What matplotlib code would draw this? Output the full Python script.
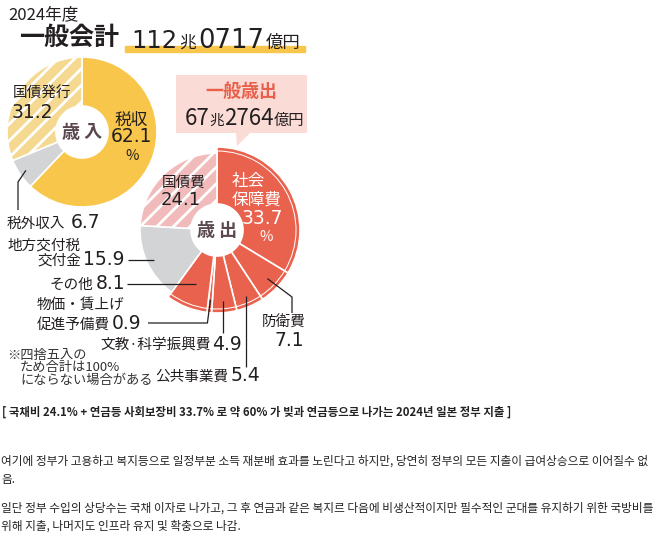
import numpy as np
import matplotlib.pyplot as plt
from matplotlib.patches import Wedge, Polygon, Rectangle

plt.rcParams['font.family'] = ['Noto Sans CJK JP', 'DejaVu Sans']
plt.rcParams['hatch.linewidth'] = 2.0

W, H = 658, 542

# 歳入 (revenue), share in %
rev_names = ['税収', '税外収入', '国債発行']
rev_vals = [62.1, 6.7, 31.2]

# 歳出 (expenditure), share in %
exp_names = ['社会保障費', '防衛費', '公共事業費', '文教·科学振興費',
             '物価・賃上げ促進予備費', 'その他', '地方交付税交付金', '国債費']
exp_vals = [33.7, 7.1, 5.4, 4.9, 0.9, 8.1, 15.9, 24.1]

title_year = '2024年度'
title_main = '一般会計'
total_parts = ['112', '兆', '0717', '億円']
general_title = '一般歳出'
general_parts = ['67', '兆', '2764', '億円']

note_lines = ['※四捨五入の', 'ため合計は100%', 'にならない場合がある']

kr_caption = '[ 국채비 24.1% + 연금등 사회보장비 33.7% 로 약 60% 가 빚과 연금등으로 나가는 2024년 일본 정부 지출 ]'
kr_lines = [
    '여기에 정부가 고용하고 복지등으로 일정부분 소득 재분배 효과를 노린다고 하지만, 당연히 정부의 모든 지출이 급여상승으로 이어질수 없',
    '음.',
    '일단 정부 수입의 상당수는 국채 이자로 나가고, 그 후 연금과 같은 복지르 다음에 비생산적이지만 필수적인 군대를 유지하기 위한 국방비를',
    '위해 지출, 나머지도 인프라 유지 및 확충으로 나감.',
]

YEL = '#F8C64A'
YEL_H = '#F5D991'
GRAY = '#D3D4D5'
RED = '#E9624E'
PINK_H = '#F1BBBB'
CALLOUT = '#FBDBD5'
INK = '#231F20'
HUB = '#5A484E'

JP = ['Noto Sans CJK JP', 'DejaVu Sans']
NUM = ['DejaVu Sans']
KR = ['Noto Sans CJK KR', 'DejaVu Sans']

fig = plt.figure(figsize=(W / 100, H / 100), dpi=100)
ax = fig.add_axes([0, 0, 1, 1])

rc, rr, hole = (82, 132), 75, 26
ec, er_big, er, ehole = (217, 230), 83, 77, 26

# revenue donut
rw, _ = ax.pie(rev_vals, colors=[YEL, GRAY, YEL_H], center=rc, radius=rr,
               startangle=-90, counterclock=True,
               wedgeprops=dict(width=rr - hole, edgecolor='white', linewidth=1.2))
rw[2].set_hatch('//')

# expenditure donut (red slices stick out a bit)
ew, _ = ax.pie(exp_vals, colors=[RED] * 6 + [GRAY, PINK_H], center=ec, radius=er,
               startangle=-90, counterclock=True,
               wedgeprops=dict(width=er - ehole, edgecolor='white', linewidth=1.2))
for w in ew[:6]:
    w.set_radius(er_big)
    w.set_width(er_big - ehole)
    ax.add_patch(Wedge(w.center, er_big - 3.5, w.theta1, w.theta2, width=1.0,
                       facecolor='white', edgecolor='none', zorder=3))
ew[7].set_hatch('//')

ax.set_xlim(0, W)
ax.set_ylim(H, 0)
ax.set_aspect('auto')
ax.axis('off')


def mid_point(center, r, vals, i):
    tot = sum(vals)
    frac = (sum(vals[:i]) + vals[i] / 2) / tot
    a = np.deg2rad(frac * 360)
    return center[0] + r * np.sin(a), center[1] - r * np.cos(a)


def txt(x, y, s, size, ha='left', va='center', color=INK, family=JP, **kw):
    return ax.text(x, y, s, fontsize=size, ha=ha, va=va, color=color,
                   family=family, zorder=5, **kw)


renderer = fig.canvas.get_renderer()


def chain(x, y, parts, color=INK, gap=1.0):
    # parts: (text, size, family)
    for s, fs, fam in parts:
        t = ax.text(x, y, s, fontsize=fs, ha='left', va='baseline',
                    color=color, family=fam, zorder=5)
        x += t.get_window_extent(renderer).width + gap


def leader(pts):
    xs, ys = zip(*pts)
    ax.plot(xs, ys, color=INK, lw=0.9, zorder=4, solid_capstyle='butt')


def label(x, y, name, value, name_fs=10.5, val_fs=13.5, gap=2):
    chain(x, y, [(name, name_fs, JP), (f'{value}', val_fs, NUM)], gap=gap)


# title
txt(8, 15, title_year, 12)
txt(19, 38, title_main, 18, weight='bold')
ax.add_patch(Rectangle((125, 46), 180, 6, color=YEL, zorder=1))
chain(131, 48, [(total_parts[0], 17.5, NUM), (total_parts[1], 12, JP),
                (total_parts[2], 18.5, NUM), (total_parts[3], 12.5, JP)], gap=2)

# callout for general expenditure
ax.add_patch(Polygon([(176, 75), (307, 75), (307, 133), (250, 133),
                      (237, 146), (236, 133), (176, 133)],
                     closed=True, facecolor=CALLOUT, edgecolor='none'))
txt(241, 91, general_title, 13, ha='center', color='#E8604C', weight='bold')
chain(185, 125, [(general_parts[0], 16, JP), (general_parts[1], 10.5, JP),
                 (general_parts[2], 16, JP), (general_parts[3], 11, JP)], gap=0)

# revenue labels
txt(rc[0], rc[1], '歳 入', 13, ha='center', color=HUB, weight='bold')
txt(131, 120, rev_names[0], 12, ha='center')
txt(131, 137, f'{rev_vals[0]}', 13.5, ha='center', family=NUM)
txt(132, 156, '%', 10.5, ha='center')
txt(13, 94, rev_names[2], 10.5)
txt(12, 112, f'{rev_vals[2]}', 13.5, family=NUM)
p = mid_point(rc, 68, rev_vals, 1)
leader([p, (18, 182), (18, 210)])
label(7, 228, rev_names[1], rev_vals[1], gap=5)

# expenditure labels inside donut
txt(ec[0], ec[1], '歳 出', 13, ha='center', color=HUB, weight='bold')
txt(232, 181, exp_names[0][:2], 12, color='white')
txt(232, 200, exp_names[0][2:], 12, color='white')
txt(242, 219, f'{exp_vals[0]}', 13.5, color='white', family=NUM)
txt(266, 237, '%', 10.5, ha='center', color='white')
txt(162, 183, exp_names[7], 10.5)
txt(161, 200, f'{exp_vals[7]}', 13, family=NUM)

# expenditure labels outside
txt(7, 246, exp_names[6][:5], 10.5)
label(37, 265, exp_names[6][5:], exp_vals[6])
p = mid_point(ec, 70, exp_vals, 6)
leader([(128, p[1]), p])

label(50, 289, exp_names[5], exp_vals[5])
p = mid_point(ec, 58, exp_vals, 5)
leader([(127, p[1]), p])

txt(37, 305, exp_names[4][:6], 10.5)
label(37, 329, exp_names[4][6:], exp_vals[4])
p = mid_point(ec, 70, exp_vals, 4)
leader([(148, 323), (p[0] - 3, 323), p])

label(100, 350, exp_names[3], exp_vals[3])
p = mid_point(ec, 71, exp_vals, 3)
leader([(p[0], 333), p])

label(155, 381, exp_names[2], exp_vals[2])
p = mid_point(ec, 72, exp_vals, 2)
leader([(p[0], 367), p])

txt(262, 323, exp_names[1], 10.5)
txt(304, 340, f'{exp_vals[1]}', 13.5, ha='right', family=NUM)
p = mid_point(ec, 70, exp_vals, 1)
leader([p, (292, 297), (292, 313)])

for i, line in enumerate(note_lines):
    txt(7 if i == 0 else 20, 355 + i * 12.5, line, 9.5, color='#333333')

# korean caption and text
txt(2, 412, kr_caption, 8.2, family=KR, weight='bold', color='#222222')
for y, line in zip([461, 479, 508, 526], kr_lines):
    txt(1, y, line, 8.45, family=KR, color='#222222')

fig.savefig('out.png', dpi=100)
